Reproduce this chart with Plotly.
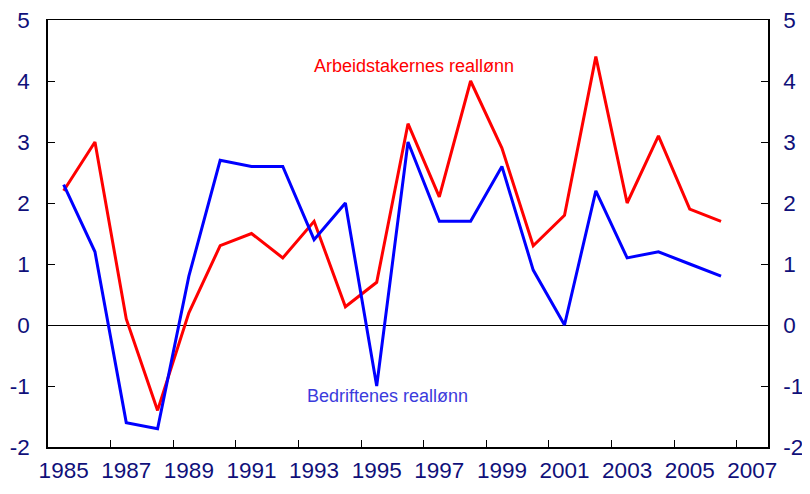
import plotly.graph_objects as go

years = list(range(1985, 2007))
arbeidstakere = [2.2, 3.0, 0.1, -1.4, 0.2, 1.3, 1.5, 1.1, 1.7, 0.3, 0.7, 3.3, 2.1, 4.0, 2.9, 1.3, 1.8, 4.4, 2.0, 3.1, 1.9, 1.7]
bedrifter = [2.3, 1.2, -1.6, -1.7, 0.8, 2.7, 2.6, 2.6, 1.4, 2.0, -1.0, 3.0, 1.7, 1.7, 2.6, 0.9, 0.0, 2.2, 1.1, 1.2, 1.0, 0.8]
x_tick_labels = [str(y) for y in range(1985, 2008, 2)]
x_tick_vals = list(range(1985, 2008, 2))
x_tick_marks = [y + 1.5 for y in range(1985, 2006, 2)]
y_ticks = [-2, -1, 0, 1, 2, 3, 4, 5]
y_tick_labels = ["-2", "-1", "0", "1", "2", "3", "4", "5"]

FONT = "Liberation Sans, Arial, sans-serif"
NAVY = "#10107a"
FS = 22.5
xr = [1984.5, 2007.5]
yr = [-2, 5]

fig = go.Figure()
fig.add_trace(go.Scatter(x=years, y=arbeidstakere, mode="lines",
                         line=dict(color="#ff0000", width=3), showlegend=False))
fig.add_trace(go.Scatter(x=years, y=bedrifter, mode="lines",
                         line=dict(color="#0000ff", width=3), showlegend=False))
fig.add_trace(go.Scatter(x=[years[0]], y=[bedrifter[0]], yaxis="y2", mode="lines",
                         line=dict(width=0), hoverinfo="skip", showlegend=False))
fig.add_trace(go.Scatter(x=[years[0]], y=[0], xaxis="x2", mode="lines",
                         line=dict(width=0), hoverinfo="skip", showlegend=False))

fig.add_annotation(x=1996.2, y=4.24, text="Arbeidstakernes reallønn", showarrow=False,
                   font=dict(family=FONT, size=18, color="#ff0000"))
fig.add_annotation(x=1995.36, y=-1.16, text="Bedriftenes reallønn", showarrow=False,
                   font=dict(family=FONT, size=18, color="#3b3bdc"))

tf = dict(family=FONT, size=FS, color=NAVY)
fig.update_layout(
    width=802, height=486,
    margin=dict(l=40, r=42, t=12, b=47),
    paper_bgcolor="white", plot_bgcolor="white",
    font=dict(family=FONT, size=FS, color=NAVY),
    xaxis=dict(range=xr, tickmode="array", tickvals=x_tick_vals, ticktext=x_tick_labels,
               ticks="", showgrid=False, zeroline=False, showline=True, linecolor="black",
               linewidth=1, mirror=True, tickfont=tf, automargin=False, ticklabelstandoff=3,
               ticklabeloverflow="allow"),
    xaxis2=dict(range=xr, overlaying="x", side="bottom", tickmode="array", tickvals=x_tick_marks,
                ticks="inside", ticklen=7, tickcolor="black", tickwidth=1, showticklabels=False,
                showgrid=False, zeroline=False, showline=True, linecolor="black", linewidth=2,
                automargin=False),
    yaxis=dict(range=yr, tickmode="array", tickvals=y_ticks, ticktext=y_tick_labels,
               ticks="inside", ticklen=7,
               tickcolor="black", showgrid=False, zeroline=True, zerolinecolor="black",
               zerolinewidth=1, showline=True, linecolor="black", linewidth=1.5,
               ticklabelstandoff=12, tickfont=tf, automargin=False, ticklabeloverflow="allow"),
    yaxis2=dict(range=yr, overlaying="y", side="right", tickmode="array", tickvals=y_ticks,
                ticktext=y_tick_labels,
                ticks="inside", ticklen=7, tickcolor="black", showgrid=False, zeroline=False,
                showline=True, linecolor="black", linewidth=1.5, ticklabelstandoff=9,
                tickfont=tf, automargin=False, ticklabeloverflow="allow"),
)

fig.write_html("out.html")
